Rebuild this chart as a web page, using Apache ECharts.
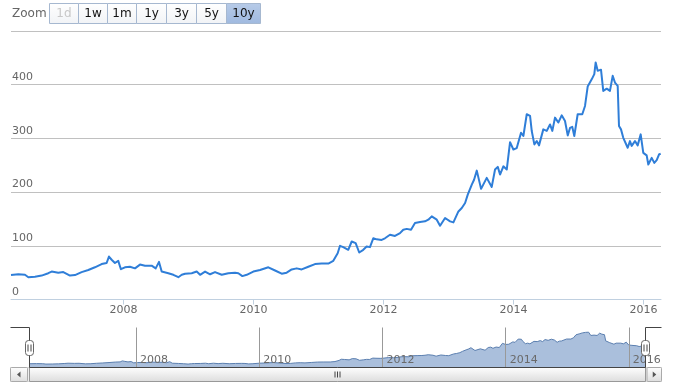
<!DOCTYPE html>
<html>
<head>
<meta charset="utf-8">
<script src="https://cdn.jsdelivr.net/npm/echarts@6.0.0/dist/echarts.min.js"></script>
<style>
  html, body { margin: 0; padding: 0; background: #fff; }
  #chart { width: 673px; height: 385px; }
</style>
</head>
<body>
<div id="chart"></div>
<script>
// ---- data (dates as decimal years) ----
const dates = [
  2006.270, 2006.383, 2006.485, 2006.537, 2006.639, 2006.742, 2006.844, 2006.896, 2006.998, 2007.075,
  2007.178, 2007.255, 2007.357, 2007.460, 2007.562, 2007.665, 2007.742, 2007.778, 2007.819, 2007.870,
  2007.921, 2007.962, 2008.024, 2008.101, 2008.178, 2008.255, 2008.332, 2008.434, 2008.496, 2008.547,
  2008.588, 2008.690, 2008.767, 2008.844, 2008.896, 2008.947, 2009.049, 2009.126, 2009.178, 2009.255,
  2009.332, 2009.408, 2009.511, 2009.613, 2009.716, 2009.767, 2009.829, 2009.896, 2009.998, 2010.101,
  2010.229, 2010.332, 2010.434, 2010.511, 2010.588, 2010.665, 2010.742, 2010.844, 2010.947, 2011.049,
  2011.152, 2011.229,
  2011.296, 2011.332, 2011.382, 2011.459, 2011.512, 2011.573, 2011.628, 2011.690, 2011.742, 2011.793,
  2011.844, 2011.896, 2011.973, 2012.024, 2012.101, 2012.178, 2012.255, 2012.305, 2012.358, 2012.424,
  2012.485, 2012.562, 2012.639, 2012.690, 2012.742, 2012.819, 2012.870, 2012.947, 2013.024, 2013.075,
  2013.152, 2013.204, 2013.255, 2013.296, 2013.358, 2013.393, 2013.435, 2013.501, 2013.588, 2013.665,
  2013.716, 2013.758, 2013.793, 2013.844, 2013.896, 2013.947, 2013.998, 2014.050, 2014.116, 2014.152,
  2014.204, 2014.255, 2014.281, 2014.321, 2014.358, 2014.393, 2014.459, 2014.512, 2014.562, 2014.598,
  2014.639, 2014.690, 2014.742, 2014.793, 2014.835, 2014.870, 2014.905, 2014.936, 2014.988, 2015.059,
  2015.101, 2015.142, 2015.204, 2015.244, 2015.265, 2015.296, 2015.347, 2015.382, 2015.435, 2015.485,
  2015.527, 2015.562, 2015.604, 2015.624, 2015.655, 2015.690, 2015.716, 2015.758, 2015.793, 2015.819,
  2015.870, 2015.912, 2015.958, 2015.998, 2016.050, 2016.075, 2016.127, 2016.167, 2016.204, 2016.239,
  2016.265
];
const prices = [
  45.8, 47, 46, 41.5, 42.5, 44.5, 49, 52, 50, 51,
  44.5, 45.5, 51, 55, 60, 66, 68, 80, 74, 68,
  72, 56.4, 60, 61, 58, 65, 63, 63, 58, 70,
  52, 49, 46, 41.5, 46, 48, 49, 52, 46, 52,
  47, 51, 46, 49, 50, 49, 43.6, 46, 52, 55,
  60, 54, 48, 50, 56, 58, 56, 61, 66, 67,
  67, 72,
  86, 100, 97.5, 92.5, 108, 105, 87.5, 92.5, 98.7, 97.5,
  114, 112, 111, 114, 120.6, 118.4, 123.7, 130, 131.5, 130,
  142.4, 144.3, 145.5, 148.6, 154.8, 148.6, 137.4, 151.7, 145.5, 143.6,
  164, 170.4, 179.8, 195.3, 214, 223, 240, 206, 226.5, 209.7,
  242, 247, 232.7, 248, 242, 293, 279.4, 282, 310.6, 304.5,
  345, 342, 313.7, 288.8, 295, 287, 316.8, 314, 326, 314,
  338.7, 329.5, 343, 332.4, 305.6, 319.5, 321.5, 304.5, 345, 345,
  360.4, 396.6, 410, 419.6, 441.5, 425.8, 428, 388.4, 392.6, 388.4,
  416.5, 404, 398, 323, 316.8, 301, 304.5, 282.6, 295, 286,
  295, 287, 307.5, 273, 268.3, 251.4, 263.8, 254.4, 259.5, 270,
  271.6
];
const xTickYears = [2008, 2010, 2012, 2014, 2016];
const rangeStart = 2006.27;
const rangeEnd = 2016.27;
const yTicks = { min: 0, max: 500, interval: 100 };
const zoomButtons = ['1d', '1w', '1m', '1y', '3y', '5y', '10y'];

// ---- helpers ----
function toTs(t) {
  const y = Math.floor(t);
  const a = Date.UTC(y, 0, 1), b = Date.UTC(y + 1, 0, 1);
  return a + (t - y) * (b - a);
}
const seriesData = dates.map((d, i) => [toTs(d), prices[i]]);
const xTickValues = xTickYears.map(y => Date.UTC(y, 0, 1));
const yearFmt = v => String(new Date(v).getUTCFullYear());

const FONT = 'DejaVu Sans';

// ---- range selector graphics ----
const btnWidths = [29, 29, 29, 30, 30, 30, 34];
const graphics = [];
graphics.push({
  type: 'text', x: 12, y: 14, z: 100,
  style: { text: 'Zoom', fill: '#666', font: '12px "DejaVu Sans"', verticalAlign: 'middle' }
});
let bx = 49.5;
zoomButtons.forEach((lab, i) => {
  const w = btnWidths[i];
  const selected = lab === '10y';
  const disabled = lab === '1d';
  graphics.push({
    type: 'rect', z: 100,
    shape: { x: bx, y: 3.5, width: w, height: 20 },
    style: {
      fill: selected
        ? new echarts.graphic.LinearGradient(0, 0, 0, 1, [{ offset: 0, color: '#b7cbe8' }, { offset: 1, color: '#9fb9df' }])
        : new echarts.graphic.LinearGradient(0, 0, 0, 1, [{ offset: 0, color: '#ffffff' }, { offset: 1, color: '#f1f3f6' }]),
      stroke: '#a6b8d0', lineWidth: 1
    }
  });
  graphics.push({
    type: 'text', z: 101,
    x: bx + w / 2, y: 14,
    style: {
      text: lab, fill: disabled ? '#c8c8c8' : '#111',
      font: '12px "DejaVu Sans"', align: 'center', verticalAlign: 'middle'
    }
  });
  bx += w;
});

// ---- navigator outline, handles, scrollbar ----
const navL = 29.5, navR = 645.5, navT = 327.5, navB = 367.5, plotL = 10.5, plotR = 661.5;
graphics.push({ type: 'rect', z: 100, shape: { x: plotL, y: 367.5, width: plotR - plotL, height: 14 },
  style: { fill: '#eeeeee', stroke: '#d8d8d8', lineWidth: 1 } });
graphics.push({ type: 'rect', z: 101, shape: { x: navL, y: 367.5, width: navR - navL, height: 14 },
  style: { fill: new echarts.graphic.LinearGradient(0, 0, 0, 1, [{ offset: 0, color: '#ffffff' }, { offset: 1, color: '#dcdcdc' }]),
    stroke: '#999', lineWidth: 1 } });
[-2.5, 0, 2.5].forEach(d => {
  graphics.push({ type: 'line', z: 102, shape: { x1: 337.5 + d, y1: 371.5, x2: 337.5 + d, y2: 377.5 },
    style: { stroke: '#444', lineWidth: 1 } });
});
[[plotL, 17, 'L'], [647, plotR - 647, 'R']].forEach(([x, w, dir]) => {
  graphics.push({ type: 'rect', z: 101, shape: { x: x, y: 367.5, width: w, height: 14, r: 1 },
    style: { fill: new echarts.graphic.LinearGradient(0, 0, 0, 1, [{ offset: 0, color: '#ffffff' }, { offset: 1, color: '#dddddd' }]),
      stroke: '#aaa', lineWidth: 1 } });
  const cx = x + w / 2, cy = 374.5;
  const pts = dir === 'L' ? [[cx - 2, cy], [cx + 1.5, cy - 3], [cx + 1.5, cy + 3]]
                          : [[cx + 2, cy], [cx - 1.5, cy - 3], [cx - 1.5, cy + 3]];
  graphics.push({ type: 'polygon', z: 102, shape: { points: pts }, style: { fill: '#555' } });
});
graphics.push({ type: 'polyline', z: 103,
  shape: { points: [[plotL, navT], [navL, navT], [navL, navB], [navR, navB], [navR, navT], [plotR, navT]] },
  style: { stroke: '#444', lineWidth: 1, fill: null } });
[navL, navR].forEach(hx => {
  graphics.push({ type: 'rect', z: 104, shape: { x: hx - 4, y: 340.5, width: 8, height: 15, r: 3 },
    style: { fill: '#ffffff', stroke: '#666', lineWidth: 1 } });
  [-1.5, 1.5].forEach(d => {
    graphics.push({ type: 'line', z: 105, shape: { x1: hx + d, y1: 344.5, x2: hx + d, y2: 351.5 },
      style: { stroke: '#444', lineWidth: 1 } });
  });
});

const option = {
  animation: false,
  backgroundColor: '#ffffff',
  grid: [
    { left: 11, right: 12, top: 31, bottom: 85.5 },
    { left: 29.5, right: 673 - 645.5, top: 327.5, height: 40 }
  ],
  xAxis: [
    {
      type: 'value', gridIndex: 0, min: toTs(rangeStart), max: toTs(rangeEnd),
      axisLine: { show: true, lineStyle: { color: '#C0D0E0', width: 1 } },
      axisTick: { show: true, length: 5, lineStyle: { color: '#C0D0E0' }, customValues: xTickValues },
      axisLabel: { customValues: xTickValues, formatter: yearFmt, color: '#666', fontSize: 11, fontFamily: FONT, margin: 5 },
      splitLine: { show: false }
    },
    {
      type: 'value', gridIndex: 1, min: toTs(rangeStart), max: toTs(rangeEnd), z: 5,
      axisLine: { show: false },
      axisTick: { show: false, customValues: xTickValues },
      axisLabel: { customValues: xTickValues, formatter: yearFmt, inside: true, align: 'left',
        verticalAlign: 'bottom', padding: [0, 0, 0, 4], margin: 2, color: '#6a6a6a', fontSize: 11, fontFamily: FONT },
      splitLine: { show: true, lineStyle: { color: '#999999', width: 1 } }
    }
  ],
  yAxis: [
    {
      type: 'value', gridIndex: 0, min: yTicks.min, max: yTicks.max, interval: yTicks.interval,
      axisLine: { show: false }, axisTick: { show: false },
      axisLabel: { inside: true, showMaxLabel: false, margin: 1, verticalAlign: 'bottom', padding: [0, 0, 2, 0],
        color: '#666', fontSize: 11, fontFamily: FONT },
      splitLine: { show: true, lineStyle: { color: '#C0C0C0', width: 1 } }
    },
    { type: 'value', gridIndex: 1, min: 0, max: 485, show: false }
  ],
  series: [
    {
      type: 'line', xAxisIndex: 0, yAxisIndex: 0, data: seriesData,
      showSymbol: false, smooth: false, silent: true,
      lineStyle: { color: '#2f7ed8', width: 2, join: 'round' }
    },
    {
      type: 'line', xAxisIndex: 1, yAxisIndex: 1, data: seriesData,
      showSymbol: false, smooth: false, silent: true,
      lineStyle: { color: '#5b7fb0', width: 1 },
      areaStyle: { color: '#aabfdc', opacity: 1, origin: 'start' }
    }
  ],
  graphic: graphics
};

const chart = echarts.init(document.getElementById('chart'), null, { renderer: 'canvas' });
chart.setOption(option);
</script>
</body>
</html>
